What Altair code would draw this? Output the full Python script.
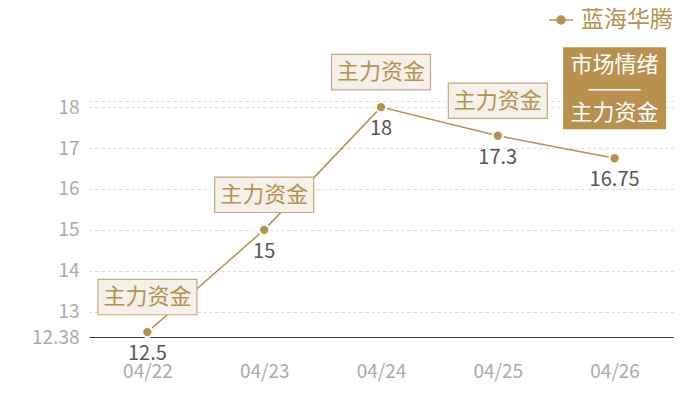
import altair as alt
import pandas as pd

dates = ["04/22", "04/23", "04/24", "04/25", "04/26"]
values = [12.5, 15, 18, 17.3, 16.75]
labels = ["12.5", "15", "18", "17.3", "16.75"]
notes = ["主力资金", "主力资金", "主力资金", "主力资金", ""]
last_note = "市场情绪\n———\n主力资金"
series = "蓝海华腾"
y_ticks = [12.38, 13, 14, 15, 16, 17, 18, 18.15]
y_domain = [12.38, 18.15]

GOLD = "#b8914f"
FONT = "Noto Sans CJK SC"

df = pd.DataFrame({"date": dates, "value": values, "label": labels,
                   "note": notes, "series": series})
df_notes = df[df["note"] != ""]
df_last = df.iloc[[-1]].assign(note=last_note)

x = alt.X("date:N", sort=dates, title=None,
          scale=alt.Scale(type="point", padding=0.5),
          axis=alt.Axis(labelColor="#aaaaaa", labelFontSize=19, labelPadding=25,
                        ticks=False, domainColor="#333333", domainWidth=1,
                        labelAngle=0, grid=False))
y = alt.Y("value:Q", title=None,
          scale=alt.Scale(domain=y_domain, nice=False, zero=False),
          axis=alt.Axis(values=y_ticks, labelColor="#aaaaaa", labelFontSize=19,
                        labelPadding=10, ticks=False, domain=False, format=".2~f",
                        gridColor="#d9d9d9", gridDash=[3, 3], gridWidth=1,
                        labelExpr="datum.value > 18.1 ? '' : datum.label"))

base = alt.Chart(df).encode(x=x, y=y)

line = base.mark_line(color=GOLD, strokeWidth=1.5)

halo = base.mark_point(filled=True, size=150, color="white", opacity=1)

points = base.mark_point(filled=True, size=70, opacity=1).encode(
    color=alt.Color("series:N", scale=alt.Scale(range=[GOLD]),
                    legend=alt.Legend(
                        title=None, orient="none", legendX=459, legendY=-94,
                        symbolType="M-1,0L1,0M-0.33,0A0.33,0.33 0 1,1 0.33,0A0.33,0.33 0 1,1 -0.33,0Z",
                        symbolSize=576, symbolStrokeWidth=1.5,
                        symbolFillColor=GOLD, symbolStrokeColor=GOLD,
                        labelFontSize=23, labelColor=GOLD, labelFont=FONT,
                        labelOffset=7))
)

value_labels = base.mark_text(dy=22, fontSize=20, color="#555555", font=FONT).encode(
    text="label:N")

box_shape = "M-1,-0.357L1,-0.357L1,0.357L-1,0.357Z"
boxes = alt.Chart(df_notes).mark_point(
    shape=box_shape, size=9801, filled=True, fill="#f4f0ea", stroke="#c9a878",
    strokeWidth=1.2, opacity=1, yOffset=-35).encode(x=x, y=y)
box_text = alt.Chart(df_notes).mark_text(
    dy=-35, fontSize=22, color=GOLD, font=FONT).encode(x=x, y=y, text="note:N")

last_shape = "M-1,-0.79L1,-0.79L1,0.79L-1,0.79Z"
last_box = alt.Chart(df_last).mark_point(
    shape=last_shape, size=10201, filled=True, fill=GOLD, stroke=GOLD,
    opacity=1, yOffset=-70).encode(x=x, y=y)
last_text = alt.Chart(df_last).mark_text(
    dy=-70 - 23, fontSize=22, color="white", font=FONT, lineBreak="\n",
    lineHeight=24, baseline="middle").encode(x=x, y=y, text="note:N")

chart = alt.layer(line, halo, points, value_labels, boxes, box_text, last_box, last_text).properties(
    width=584, height=236,
    autosize=alt.AutoSizeParams(type="none"),
    padding={"left": 81, "top": 93, "right": 19, "bottom": 55},
).configure(font=FONT).configure_view(stroke=None)

chart.save("out.html", embed_options={"renderer": "svg", "actions": False})
